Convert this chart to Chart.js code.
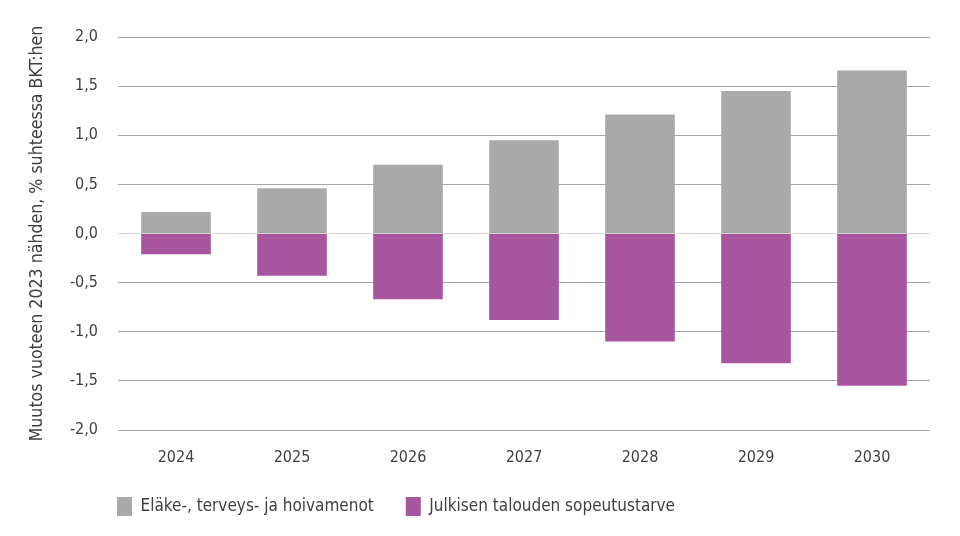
<!DOCTYPE html>
<html>
<head>
<meta charset="utf-8">
<script src="https://cdn.jsdelivr.net/npm/chart.js@4/dist/chart.umd.min.js"></script>
<style>
  html, body { margin: 0; padding: 0; background: #ffffff; }
  #wrap { width: 960px; height: 536px; position: relative; }
</style>
</head>
<body>
<div id="wrap"><canvas id="c" width="960" height="536"></canvas></div>
<script>
const categories = ['2024', '2025', '2026', '2027', '2028', '2029', '2030'];
const menot = [0.22, 0.46, 0.70, 0.95, 1.21, 1.45, 1.66];
const sopeutus = [-0.21, -0.43, -0.67, -0.88, -1.10, -1.32, -1.55];
const seriesNames = ['Eläke-, terveys- ja hoivamenot', 'Julkisen talouden sopeutustarve'];
const yTitle = 'Muutos vuoteen 2023 nähden, % suhteessa BKT:hen';

const FONT = "'Liberation Sans Narrow', 'DejaVu Sans Condensed', 'Arial Narrow', sans-serif";
const TEXT = '#3f3f3f';
const LEGEND_PAD = 32;

const legendShift = {
  id: 'legendShift',
  afterLayout(chart) {
    const lg = chart.legend;
    if (!lg) return;
    const dx = (117 - LEGEND_PAD) - lg.left;
    lg.left += dx;
    lg.right += dx;
    const dy = (497 - LEGEND_PAD) - lg.top;
    lg.top += dy;
    lg.bottom += dy;
  }
};

new Chart(document.getElementById('c'), {
  type: 'bar',
  data: {
    labels: categories,
    datasets: [
      { label: seriesNames[0], data: menot, backgroundColor: '#a8a9a8', borderWidth: 0 },
      { label: seriesNames[1], data: sopeutus, backgroundColor: '#a7559f', borderWidth: 0 }
    ]
  },
  options: {
    responsive: false,
    animation: false,
    devicePixelRatio: 1,
    layout: { padding: { left: 0, right: 30, top: 37, bottom: 0 } },
    datasets: { bar: { categoryPercentage: 1.0, barPercentage: 0.6 } },
    plugins: {
      legend: {
        position: 'bottom',
        align: 'start',
        labels: {
          boxWidth: 15,
          boxHeight: 19,
          padding: LEGEND_PAD,
          color: TEXT,
          font: { family: FONT, size: 17 }
        }
      },
      tooltip: { enabled: false }
    },
    scales: {
      x: {
        stacked: true,
        grid: { display: false, drawTicks: false },
        border: { display: false },
        ticks: { color: TEXT, font: { family: FONT, size: 16 }, padding: 18 },
        afterFit(s) { s.height = 45; }
      },
      y: {
        stacked: true,
        min: -2,
        max: 2,
        grid: {
          drawTicks: false,
          color: (ctx) => (ctx.tick && ctx.tick.value === 0) ? '#d4d4d4' : '#a6a6a6',
          lineWidth: 1
        },
        border: { display: false },
        ticks: {
          stepSize: 0.5,
          padding: 20,
          color: TEXT,
          font: { family: FONT, size: 16 },
          callback: (v) => v.toFixed(1).replace('.', ',')
        },
        title: {
          display: true,
          text: yTitle,
          color: TEXT,
          font: { family: FONT, size: 17.6 },
          padding: { top: 27, bottom: 0 }
        },
        afterFit(s) { s.width = 118; }
      }
    }
  },
  plugins: [legendShift]
});
</script>
</body>
</html>
